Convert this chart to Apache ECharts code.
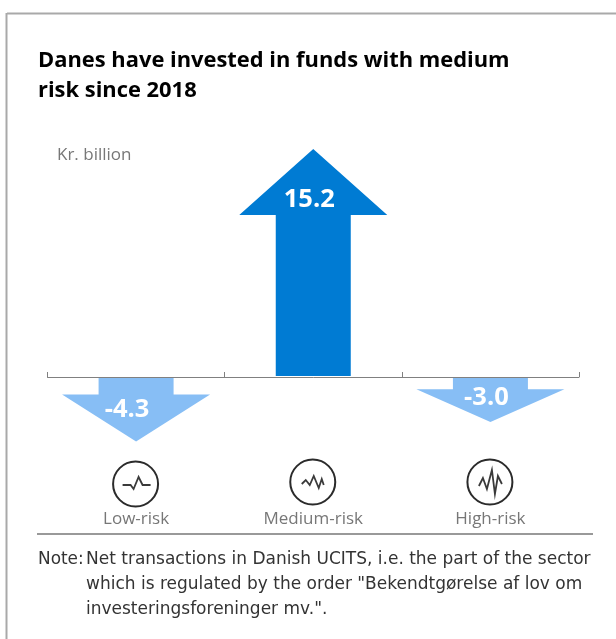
<!DOCTYPE html>
<html>
<head>
<meta charset="utf-8">
<style>html,body{margin:0;padding:0;background:#fff}#chart{width:616px;height:639px}</style>
<script src="https://cdn.jsdelivr.net/npm/echarts@6/dist/echarts.min.js"></script>
</head>
<body>
<div id="chart"></div>
<script>
const categories = ['Low-risk', 'Medium-risk', 'High-risk'];
const netTransactions = [-4.3, 15.2, -3.0];
const valueLabels = ['-4.3', '15.2', '-3.0'];
const titleLines = ['Danes have invested in funds with medium', 'risk since 2018'];
const unitLabel = 'Kr. billion';
const noteLines = [
  'Net transactions in Danish UCITS, i.e. the part of the sector',
  'which is regulated by the order "Bekendtgørelse af lov om',
  'investeringsforeninger mv.".'
];

// Pulse glyphs inside the round risk icons, one per category, relative to the circle centre
const riskGlyphs = [
  [[-13, 1], [-5, 1], [-2, 5], [3, -7], [7, 1], [15, 1]],
  [[-11, 2], [-7, -2], [-3, 3], [1, -6], [6, 6], [9, -3], [11, 3]],
  [[-11, 4], [-7, -4], [-3, 7], [2, -12], [5, 12], [8, -6], [12, 2]]
];

const FONT = '"Open Sans", "Noto Sans", sans-serif';
const NOTE_FONT = '"DejaVu Sans", sans-serif';
const BLUE_UP = '#007bd3';
const BLUE_DOWN = '#87bef5';
const HEAD_W = 148, SHAFT_W = 75, HEAD_MAX = 66, HEAD_SHARE = 0.73;

function renderArrow(params, api) {
  const value = api.value(1);
  const base = api.coord([api.value(0), 0]);
  const tip = api.coord([api.value(0), value]);
  const x = base[0], y0 = base[1], y1 = tip[1];
  const len = Math.abs(y1 - y0);
  const dir = value >= 0 ? -1 : 1;
  const head = Math.min(HEAD_MAX, len * HEAD_SHARE);
  const yS = y1 - dir * head;
  const points = [
    [x - SHAFT_W / 2, y0 + dir], [x + SHAFT_W / 2, y0 + dir],
    [x + SHAFT_W / 2, yS], [x + HEAD_W / 2, yS], [x, y1],
    [x - HEAD_W / 2, yS], [x - SHAFT_W / 2, yS]
  ];
  const labelY = value >= 0 ? y1 + 51 : y0 + len * 0.6 - 6;
  const labelX = x + (params.dataIndex === 0 ? -9 : -4);
  return {
    type: 'group',
    children: [
      { type: 'polygon', shape: { points }, style: { fill: value >= 0 ? BLUE_UP : BLUE_DOWN } },
      { type: 'text', style: {
          x: labelX, y: labelY, text: valueLabels[params.dataIndex], fill: '#fff',
          font: 'bold 25.5px ' + FONT, align: 'center', verticalAlign: 'middle' } }
    ]
  };
}

function renderIcon(params, api) {
  const cx = api.coord([api.value(0), 0])[0] - 0.5;
  const cy = params.dataIndex === 0 ? 484 : 482;
  const pts = riskGlyphs[params.dataIndex].map(p => [cx + p[0], cy + p[1]]);
  return {
    type: 'group',
    children: [
      { type: 'circle', shape: { cx, cy, r: 22.5 }, style: { fill: '#fff', stroke: '#2b2b2b', lineWidth: 2 } },
      { type: 'polyline', shape: { points: pts }, style: { fill: 'none', stroke: '#3a3a3a', lineWidth: 1.8 } }
    ]
  };
}

const chart = echarts.init(document.getElementById('chart'), null, { renderer: 'canvas' });
chart.setOption({
  animation: false,
  backgroundColor: '#fff',
  grid: { left: 47.5, right: 37, top: 137, bottom: 134.5, outerBoundsMode: 'none' },
  xAxis: {
    type: 'category',
    data: categories,
    axisLine: { onZero: true, lineStyle: { color: '#808080', width: 1 } },
    axisTick: { show: true, inside: true, length: 5, alignWithLabel: false, lineStyle: { color: '#808080' } },
    axisLabel: { margin: 6, color: '#777', fontFamily: FONT, fontSize: 17 }
  },
  yAxis: { type: 'value', min: -8.5, max: 16, show: false },
  series: [
    { type: 'custom', renderItem: renderArrow, silent: true, z: 3,
      encode: { x: 0, y: 1 }, clip: false,
      data: netTransactions.map((v, i) => [i, v]) },
    { type: 'custom', renderItem: renderIcon, silent: true, z: 3,
      encode: { x: 0, y: 1 }, clip: false,
      data: netTransactions.map((v, i) => [i, 0]) }
  ],
  graphic: [
    { type: 'line', silent: true, shape: { x1: 7, y1: 13.5, x2: 616, y2: 13.5 }, style: { stroke: '#a9a9a9', lineWidth: 2 } },
    { type: 'line', silent: true, shape: { x1: 6.5, y1: 13, x2: 6.5, y2: 639 }, style: { stroke: '#a9a9a9', lineWidth: 2 } },
    { type: 'line', silent: true, shape: { x1: 37, y1: 534, x2: 593, y2: 534 }, style: { stroke: '#999', lineWidth: 2 } },
    { type: 'text', silent: true, left: 38, top: 46, style: {
        text: titleLines.join('\n'), fill: '#000', font: 'bold 21.9px ' + FONT, lineHeight: 30 } },
    { type: 'text', silent: true, left: 57, top: 147, style: {
        text: unitLabel, fill: '#777', font: '17px ' + FONT } },
    { type: 'text', silent: true, left: 38, top: 547, style: {
        text: 'Note:', fill: '#333', font: '16.9px ' + NOTE_FONT, lineHeight: 25 } },
    { type: 'text', silent: true, left: 86, top: 547, style: {
        text: noteLines.join('\n'), fill: '#333', font: '17px ' + NOTE_FONT, lineHeight: 25 } }
  ]
});
</script>
</body>
</html>
